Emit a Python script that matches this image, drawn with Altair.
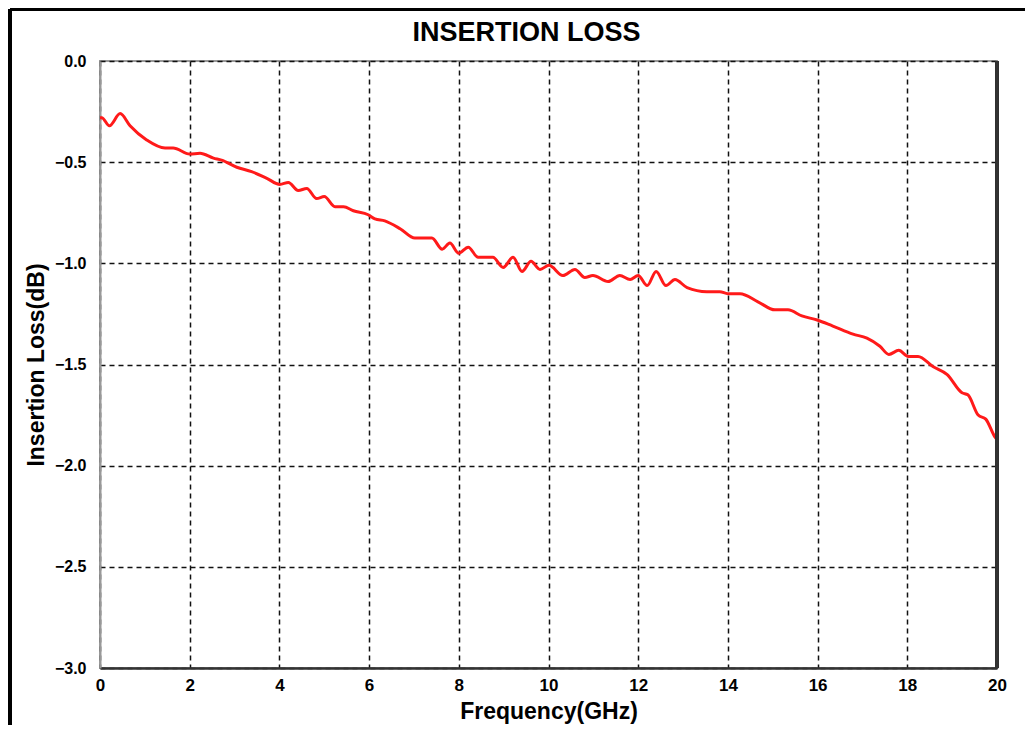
import altair as alt
import pandas as pd

freq = [0.0, 0.04, 0.21, 0.45, 0.67, 1.04, 1.45, 1.63, 2.0, 2.23, 2.53, 2.71, 3.05, 3.38, 3.72,
        4.01, 4.2, 4.42, 4.61, 4.83, 5.0, 5.24, 5.43, 5.65, 5.98, 6.13, 6.35, 6.7, 7.02, 7.4,
        7.63, 7.8, 8.0, 8.21, 8.43, 8.76, 8.99, 9.21, 9.41, 9.61, 9.81, 10.01, 10.32, 10.59,
        10.81, 10.99, 11.33, 11.59, 11.82, 12.0, 12.2, 12.4, 12.62, 12.82, 13.09, 13.53, 13.82,
        14.0, 14.27, 14.67, 15.05, 15.34, 15.65, 15.99, 16.34, 16.79, 17.1, 17.39, 17.59, 17.81,
        18.02, 18.24, 18.57, 18.89, 19.22, 19.35, 19.58, 19.75, 19.96, 20.0]
loss = [-0.28, -0.28, -0.32, -0.26, -0.32, -0.39, -0.43, -0.43, -0.46, -0.456, -0.48, -0.49,
        -0.525, -0.547, -0.58, -0.61, -0.60, -0.64, -0.63, -0.68, -0.67, -0.72, -0.72, -0.74,
        -0.76, -0.78, -0.79, -0.83, -0.875, -0.875, -0.93, -0.90, -0.95, -0.92, -0.97, -0.97,
        -1.02, -0.97, -1.04, -0.99, -1.03, -1.01, -1.06, -1.03, -1.07, -1.06, -1.09, -1.06,
        -1.08, -1.06, -1.11, -1.04, -1.11, -1.08, -1.12, -1.14, -1.14, -1.15, -1.15, -1.19,
        -1.23, -1.23, -1.26, -1.28, -1.31, -1.35, -1.37, -1.41, -1.45, -1.43, -1.46, -1.46,
        -1.51, -1.55, -1.64, -1.65, -1.75, -1.77, -1.86, -1.87]

x_ticks = [0, 2, 4, 6, 8, 10, 12, 14, 16, 18, 20]
y_ticks = [0.0, -0.5, -1.0, -1.5, -2.0, -2.5, -3.0]

df = pd.DataFrame({"f": freq, "il": loss})

FONT = "Liberation Sans"

line = alt.Chart(df).mark_line(color="#ff1a1a", strokeWidth=3, interpolate="monotone").encode(
    x=alt.X("f:Q", scale=alt.Scale(domain=[0, 20], nice=False, zero=False),
            axis=alt.Axis(values=x_ticks, title="Frequency(GHz)", format="d",
                          grid=True, gridDash=[5, 4], gridColor="#111", gridWidth=1.5,
                          ticks=False, labelPadding=9, labelFlush=False,
                          domainColor="#333", domainWidth=2.5,
                          titlePadding=7,
                          labelFont=FONT, labelFontSize=17, labelFontWeight="bold", labelColor="#000",
                          titleFont=FONT, titleFontSize=23, titleFontWeight="bold", titleColor="#000")),
    y=alt.Y("il:Q", scale=alt.Scale(domain=[-3.0, 0.0], nice=False, zero=False),
            axis=alt.Axis(values=y_ticks, title="Insertion Loss(dB)", format=".1f",
                          grid=True, gridDash=[5, 4], gridColor="#111", gridWidth=1.5,
                          ticks=False, labelPadding=14, labelFlush=False,
                          domainColor="#999", domainWidth=2,
                          titlePadding=6,
                          labelFont=FONT, labelFontSize=16, labelFontWeight="bold", labelColor="#000",
                          titleFont=FONT, titleFontSize=23, titleFontWeight="bold", titleColor="#000")),
)

right_edge = alt.Chart(df).mark_rule(color="#333", strokeWidth=2.5).encode(
    x=alt.value(897), y=alt.value(0), y2=alt.value(607))

frame_top = alt.Chart(df).mark_rule(color="#000", strokeWidth=3).encode(
    x=alt.value(-90), x2=alt.value(935), y=alt.value(-52))
frame_left = alt.Chart(df).mark_rule(color="#000", strokeWidth=3).encode(
    x=alt.value(-90), y=alt.value(-52), y2=alt.value(672))

chart = alt.layer(frame_top, frame_left, line, right_edge).properties(
    width=897, height=607,
    background="white",
    title=alt.TitleParams("INSERTION LOSS", font=FONT, fontSize=27, fontWeight="bold",
                          color="#000", anchor="middle", dx=-22, offset=-39),
    padding={"left": 92, "top": 53, "right": 28, "bottom": 57},
    autosize=alt.AutoSizeParams(type="none"),
).configure_view(stroke="#999", strokeWidth=2)

chart.save("out.html", embed_options={"renderer": "svg", "actions": False})
